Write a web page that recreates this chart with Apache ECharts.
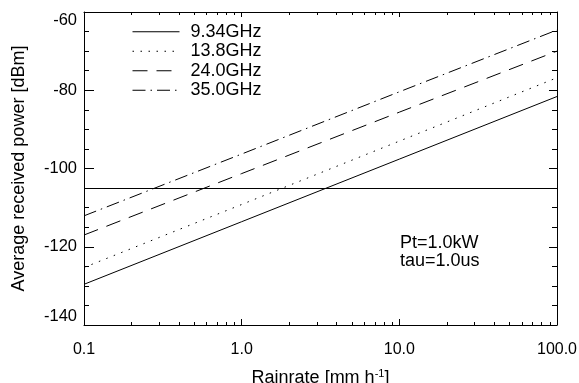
<!DOCTYPE html>
<html>
<head>
<meta charset="utf-8">
<script src="https://cdn.jsdelivr.net/npm/echarts@6/dist/echarts.min.js"></script>
<style>
  html, body { margin: 0; padding: 0; background: #fff; }
  #chart { width: 579px; height: 383px; }
</style>
</head>
<body>
<div id="chart"></div>
<script>
// rain rates where the curves were read [mm/h]
const rainRates = [0.1, 1, 10, 100];

// received power [dBm]
const power934 = [-129.6, -113.6, -97.6, -81.6];
const power138 = [-125.3, -109.2, -93.0, -76.8];
const power240 = [-117.0, -101.3, -85.6, -70.0];
const power350 = [-112.1, -96.3, -80.4, -64.6];

const seriesNames = ["9.34GHz", "13.8GHz", "24.0GHz", "35.0GHz"];
const thresholdLevel = -105;

const xMajorTicks = [0.1, 1, 10, 100];
const xMajorLabels = ["0.1", "1.0", "10.0", "100.0"];
const xMinorTicks = [
  0.2, 0.3, 0.4, 0.5, 0.6, 0.7, 0.8, 0.9,
  2, 3, 4, 5, 6, 7, 8, 9,
  20, 30, 40, 50, 60, 70, 80, 90,
];
const noteLines = ["Pt=1.0kW", "tau=1.0us"];

const FONT = "'Liberation Sans', Arial, Helvetica, sans-serif";
const INK = "#000";

const chart = echarts.init(document.getElementById("chart"), null, { renderer: "canvas" });

const pairs = (ys) => rainRates.map((x, i) => [x, ys[i]]);

function xAxisBase(position, tickLen, ticks, showLine) {
  return {
    type: "log",
    logBase: 10,
    min: 0.1,
    max: 100,
    position: position,
    offset: 0,
    axisLine: { show: showLine, lineStyle: { color: INK, width: 1 } },
    axisTick: {
      show: true,
      inside: true,
      length: tickLen,
      customValues: ticks,
      lineStyle: { color: INK, width: 1 },
    },
    axisLabel: { show: false },
    splitLine: { show: false },
    minorTick: { show: false },
  };
}

const bottomMajor = xAxisBase("bottom", 6, xMajorTicks, true);
bottomMajor.axisLabel = {
  show: true,
  customValues: xMajorTicks,
  margin: 17,
  fontSize: 16,
  fontFamily: FONT,
  color: INK,
  formatter: (v) => {
    const i = xMajorTicks.findIndex((t) => Math.abs(t - v) < 1e-9 * Math.max(1, t));
    return i >= 0 ? xMajorLabels[i] : "";
  },
};
bottomMajor.name = "Rainrate [mm h{sup|-1}]";
bottomMajor.nameLocation = "middle";
bottomMajor.nameGap = 43;
bottomMajor.nameTextStyle = {
  fontSize: 18,
  fontFamily: FONT,
  color: INK,
  rich: { sup: { fontSize: 11, fontFamily: FONT, color: INK, padding: [0, 0, 9, 0] } },
};

function yAxisBase(position, majorLen, minorLen) {
  return {
    type: "value",
    min: -140,
    max: -60,
    interval: 20,
    position: position,
    axisLine: { show: true, lineStyle: { color: INK, width: 1 } },
    axisTick: { show: true, inside: true, length: majorLen, lineStyle: { color: INK, width: 1 } },
    minorTick: { show: true, splitNumber: 4, length: minorLen, lineStyle: { color: INK, width: 1 } },
    axisLabel: { show: false },
    splitLine: { show: false },
    minorSplitLine: { show: false },
  };
}

const leftY = yAxisBase("left", 10, 5);
leftY.axisLabel = {
  show: true,
  margin: 7,
  fontSize: 16.5,
  fontFamily: FONT,
  color: INK,
  verticalAlignMinLabel: "bottom",
  verticalAlignMaxLabel: "top",
};
leftY.name = "Average received power [dBm]";
leftY.nameLocation = "middle";
leftY.nameGap = 56;
leftY.nameTextStyle = { fontSize: 18, fontFamily: FONT, color: INK };

const rightY = yAxisBase("right", 8, 5);

const dashTypes = ["solid", [1.5, 6.5], [15, 9], [13, 5, 1.5, 5]];
const seriesValues = [power934, power138, power240, power350];

const series = seriesNames.map((name, i) => ({
  name: name,
  type: "line",
  xAxisIndex: 0,
  yAxisIndex: 0,
  data: pairs(seriesValues[i]),
  symbol: "none",
  showSymbol: false,
  silent: true,
  lineStyle: { color: INK, width: 1, type: dashTypes[i] },
  itemStyle: { color: INK },
}));

series[0].markLine = {
  silent: true,
  symbol: "none",
  label: { show: false },
  lineStyle: { color: INK, width: 1, type: "solid" },
  data: [{ yAxis: thresholdLevel }],
};

chart.setOption({
  backgroundColor: "#fff",
  animation: false,
  grid: { left: 84, right: 22, top: 12, bottom: 58, containLabel: false, outerBoundsMode: "none" },
  legend: {
    data: seriesNames,
    orient: "vertical",
    left: 132,
    top: 22,
    padding: 0,
    itemWidth: 47,
    itemHeight: 14,
    itemGap: 0,
    itemStyle: { color: "rgba(0,0,0,0)", borderWidth: 0, opacity: 0 },
    lineStyle: { width: 1 },
    textStyle: {
      fontSize: 18,
      fontFamily: FONT,
      color: INK,
      lineHeight: 19.5,
      padding: [0, 0, 0, 6],
    },
    selectedMode: false,
  },
  xAxis: [
    bottomMajor,
    xAxisBase("bottom", 3, xMinorTicks, false),
    xAxisBase("top", 5, xMajorTicks, true),
    xAxisBase("top", 3, xMinorTicks, false),
  ],
  yAxis: [leftY, rightY],
  series: series,
  graphic: noteLines.map((line, i) => ({
    type: "text",
    left: 400,
    top: 234 + i * 18.4,
    style: { text: line, fontSize: 18, fontFamily: FONT, fill: INK },
  })),
});
</script>
</body>
</html>
